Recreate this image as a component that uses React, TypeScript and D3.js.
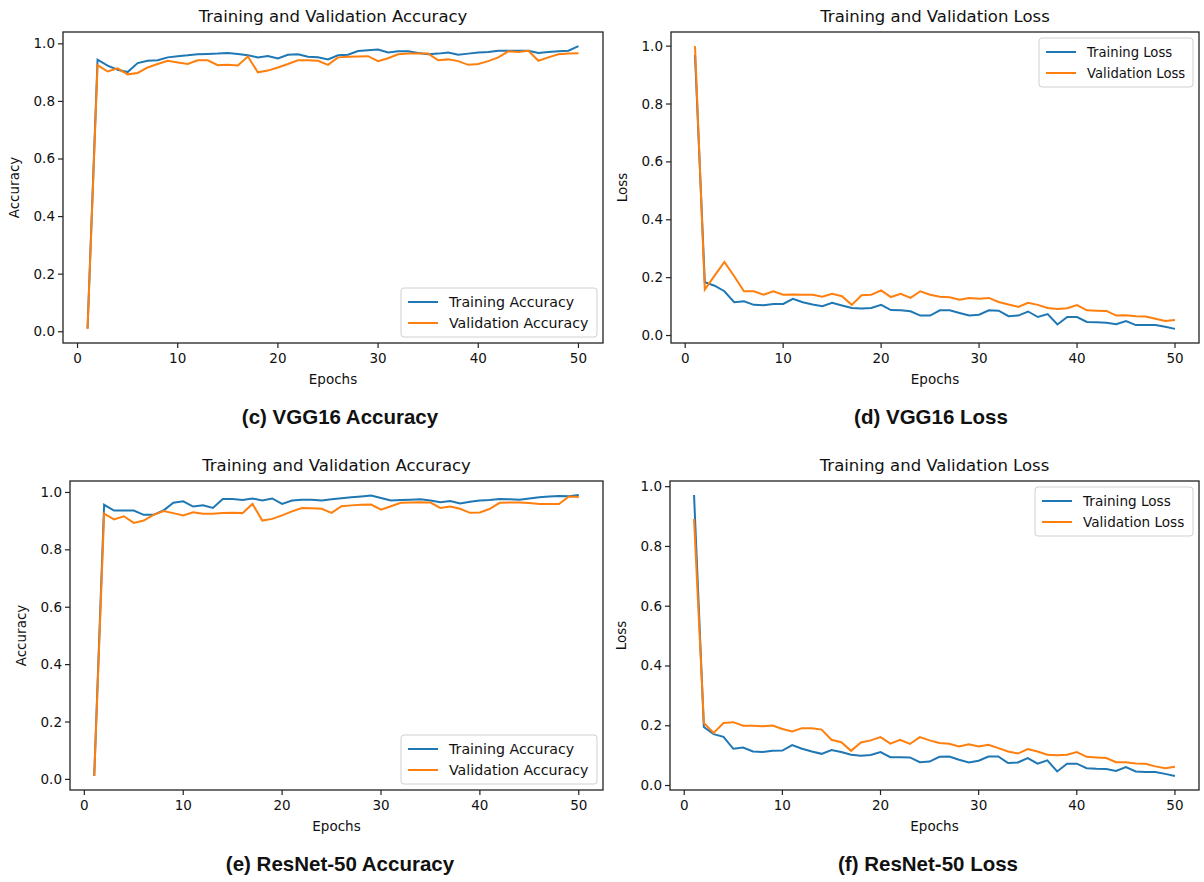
import React from "react";
import * as d3 from "d3";

// values, epochs 1..50
const epochs = d3.range(1, 51);

const vggAccTrain = [
  0.011, 0.945, 0.924, 0.910, 0.902, 0.933, 0.941, 0.943, 0.953, 0.957,
  0.960, 0.964, 0.965, 0.966, 0.968, 0.965, 0.960, 0.953, 0.958, 0.949,
  0.962, 0.964, 0.955, 0.953, 0.946, 0.960, 0.962, 0.975, 0.978, 0.980,
  0.970, 0.974, 0.974, 0.968, 0.964, 0.966, 0.970, 0.962, 0.966, 0.970,
  0.972, 0.976, 0.976, 0.976, 0.976, 0.968, 0.972, 0.974, 0.976, 0.992,
];
const vggAccVal = [
  0.010, 0.926, 0.904, 0.915, 0.894, 0.899, 0.918, 0.930, 0.941, 0.935,
  0.930, 0.943, 0.943, 0.926, 0.927, 0.925, 0.956, 0.901, 0.907, 0.918,
  0.930, 0.943, 0.943, 0.941, 0.927, 0.953, 0.955, 0.956, 0.957, 0.940,
  0.950, 0.964, 0.966, 0.966, 0.966, 0.943, 0.946, 0.940, 0.927, 0.930,
  0.940, 0.953, 0.974, 0.972, 0.976, 0.941, 0.953, 0.964, 0.966, 0.967,
];
const vggLossTrain = [
  0.970, 0.184, 0.172, 0.153, 0.115, 0.118, 0.106, 0.105, 0.109, 0.109,
  0.127, 0.115, 0.107, 0.101, 0.113, 0.104, 0.095, 0.093, 0.095, 0.106,
  0.088, 0.087, 0.084, 0.069, 0.069, 0.087, 0.087, 0.078, 0.069, 0.072,
  0.087, 0.086, 0.067, 0.069, 0.083, 0.064, 0.074, 0.038, 0.064, 0.064,
  0.047, 0.046, 0.044, 0.039, 0.050, 0.036, 0.036, 0.036, 0.030, 0.023,
];
const vggLossVal = [
  1.000, 0.159, 0.207, 0.254, 0.205, 0.153, 0.153, 0.141, 0.153, 0.141,
  0.142, 0.141, 0.141, 0.134, 0.144, 0.136, 0.106, 0.139, 0.141, 0.156,
  0.133, 0.144, 0.130, 0.153, 0.141, 0.134, 0.132, 0.124, 0.130, 0.127,
  0.130, 0.116, 0.107, 0.099, 0.113, 0.106, 0.095, 0.092, 0.094, 0.105,
  0.087, 0.086, 0.085, 0.069, 0.070, 0.067, 0.066, 0.058, 0.050, 0.054,
];
const resAccTrain = [
  0.012, 0.957, 0.937, 0.937, 0.937, 0.922, 0.922, 0.937, 0.964, 0.969,
  0.951, 0.955, 0.946, 0.977, 0.977, 0.974, 0.979, 0.972, 0.979, 0.960,
  0.972, 0.975, 0.975, 0.972, 0.976, 0.980, 0.983, 0.986, 0.989, 0.981,
  0.972, 0.974, 0.975, 0.976, 0.972, 0.966, 0.970, 0.962, 0.968, 0.972,
  0.974, 0.977, 0.976, 0.975, 0.979, 0.983, 0.986, 0.988, 0.987, 0.991,
];
const resAccVal = [
  0.012, 0.926, 0.906, 0.917, 0.894, 0.902, 0.922, 0.935, 0.928, 0.920,
  0.931, 0.926, 0.926, 0.928, 0.929, 0.928, 0.960, 0.902, 0.908, 0.920,
  0.934, 0.946, 0.945, 0.943, 0.929, 0.952, 0.955, 0.957, 0.958, 0.940,
  0.952, 0.964, 0.965, 0.966, 0.965, 0.946, 0.951, 0.943, 0.929, 0.930,
  0.943, 0.964, 0.965, 0.965, 0.963, 0.960, 0.960, 0.960, 0.986, 0.984,
];
const resLossTrain = [
  0.972, 0.196, 0.172, 0.163, 0.123, 0.127, 0.114, 0.112, 0.116, 0.117,
  0.135, 0.123, 0.114, 0.106, 0.119, 0.112, 0.103, 0.100, 0.102, 0.112,
  0.095, 0.095, 0.094, 0.078, 0.080, 0.096, 0.097, 0.086, 0.077, 0.083,
  0.097, 0.097, 0.075, 0.077, 0.092, 0.073, 0.084, 0.047, 0.073, 0.073,
  0.058, 0.056, 0.055, 0.049, 0.062, 0.047, 0.045, 0.045, 0.039, 0.032,
];
const resLossVal = [
  0.892, 0.209, 0.176, 0.209, 0.212, 0.200, 0.200, 0.198, 0.201, 0.189,
  0.181, 0.192, 0.192, 0.187, 0.153, 0.145, 0.116, 0.144, 0.151, 0.162,
  0.140, 0.153, 0.139, 0.162, 0.151, 0.142, 0.140, 0.131, 0.138, 0.131,
  0.136, 0.125, 0.114, 0.107, 0.122, 0.114, 0.103, 0.101, 0.103, 0.112,
  0.096, 0.094, 0.092, 0.078, 0.078, 0.074, 0.073, 0.064, 0.058, 0.063,
];

const xTicks = [0, 10, 20, 30, 40, 50];
const yTicks = [0, 0.2, 0.4, 0.6, 0.8, 1.0];

const BLUE = "#1f77b4";
const ORANGE = "#ff7f0e";
const FONT = "DejaVu Sans, sans-serif";

// matplotlib-like 5% margins
const padded = (lo: number, hi: number): [number, number] => {
  const m = (hi - lo) * 0.05;
  return [lo - m, hi + m];
};

const Panel = (props: any) => {
  const {left, right, top, bottom, train, val, title, ylabel, trainLabel, valLabel,
    legendLoc, legendW, legendFs, caption, captionX} = props;

  const x = d3.scaleLinear().domain(padded(1, 50)).range([left, right]);
  const all = train.concat(val);
  const y = d3.scaleLinear().domain(padded(d3.min(all), d3.max(all))).range([bottom, top]);

  const line = d3.line<number>().x((d, i) => x(epochs[i])).y(d => y(d));

  const lh = 49;
  const lx = right - 6 - legendW;
  const ly = legendLoc === "upper" ? top + 6 : bottom - 6 - lh;
  const midX = (left + right) / 2;
  const midY = (top + bottom) / 2;

  return (
    <g>
      <text x={midX} y={top - 10} textAnchor="middle" fontSize={16.5} fontFamily={FONT} fill="#111">{title}</text>
      <path d={line(train) || ""} fill="none" stroke={BLUE} strokeWidth={2}/>
      <path d={line(val) || ""} fill="none" stroke={ORANGE} strokeWidth={2}/>
      <rect x={left} y={top} width={right - left} height={bottom - top} fill="none" stroke="#222" strokeWidth={1.3}/>
      {xTicks.map(t => (
        <g key={"x" + t}>
          <line x1={x(t)} x2={x(t)} y1={bottom} y2={bottom + 5} stroke="#222" strokeWidth={1.2}/>
          <text x={x(t)} y={bottom + 20} textAnchor="middle" fontSize={13.5} fontFamily={FONT} fill="#111">{t}</text>
        </g>
      ))}
      {yTicks.map(t => (
        <g key={"y" + t}>
          <line x1={left - 5} x2={left} y1={y(t)} y2={y(t)} stroke="#222" strokeWidth={1.2}/>
          <text x={left - 8} y={y(t) + 4.5} textAnchor="end" fontSize={13.5} fontFamily={FONT} fill="#111">{d3.format(".1f")(t)}</text>
        </g>
      ))}
      <text x={midX} y={bottom + 41} textAnchor="middle" fontSize={13.5} fontFamily={FONT} fill="#111">Epochs</text>
      <text transform={`translate(${left - 44},${midY}) rotate(-90)`} textAnchor="middle" fontSize={13.5} fontFamily={FONT} fill="#111">{ylabel}</text>
      <rect x={lx} y={ly} width={legendW} height={lh} rx={3} fill="#fff" fillOpacity={0.8} stroke="#d0d0d0"/>
      <line x1={lx + 7} x2={lx + 37} y1={ly + 14} y2={ly + 14} stroke={BLUE} strokeWidth={2}/>
      <text x={lx + 48} y={ly + 19} fontSize={legendFs} fontFamily={FONT} fill="#111">{trainLabel}</text>
      <line x1={lx + 7} x2={lx + 37} y1={ly + 35} y2={ly + 35} stroke={ORANGE} strokeWidth={2}/>
      <text x={lx + 48} y={ly + 40} fontSize={legendFs} fontFamily={FONT} fill="#111">{valLabel}</text>
      <text x={captionX} y={bottom + 81} textAnchor="middle" fontSize={20.5} fontWeight="bold" fontFamily="Liberation Sans, Arial, sans-serif" fill="#111">{caption}</text>
    </g>
  );
};

export default function App() {
  return (
    <svg width={1204} height={882} style={{position: "absolute", left: 0, top: 0, background: "#fff"}}>
      <rect width={1204} height={882} fill="#fff"/>
      <Panel left={63} right={603} top={32} bottom={343} train={vggAccTrain} val={vggAccVal}
        title="Training and Validation Accuracy" ylabel="Accuracy"
        trainLabel="Training Accuracy" valLabel="Validation Accuracy"
        legendLoc="lower" legendW={196} legendFs={14.2} caption="(c) VGG16 Accuracy" captionX={340}/>
      <Panel left={671} right={1199} top={32} bottom={343} train={vggLossTrain} val={vggLossVal}
        title="Training and Validation Loss" ylabel="Loss"
        trainLabel="Training Loss" valLabel="Validation Loss"
        legendLoc="upper" legendW={154} legendFs={13.2} caption="(d) VGG16 Loss" captionX={931}/>
      <Panel left={70} right={603} top={481} bottom={790} train={resAccTrain} val={resAccVal}
        title="Training and Validation Accuracy" ylabel="Accuracy"
        trainLabel="Training Accuracy" valLabel="Validation Accuracy"
        legendLoc="lower" legendW={196} legendFs={14.2} caption="(e) ResNet-50 Accuracy" captionX={340}/>
      <Panel left={670} right={1199} top={481} bottom={790} train={resLossTrain} val={resLossVal}
        title="Training and Validation Loss" ylabel="Loss"
        trainLabel="Training Loss" valLabel="Validation Loss"
        legendLoc="upper" legendW={158} legendFs={13.6} caption="(f) ResNet-50 Loss" captionX={928}/>
    </svg>
  );
}
